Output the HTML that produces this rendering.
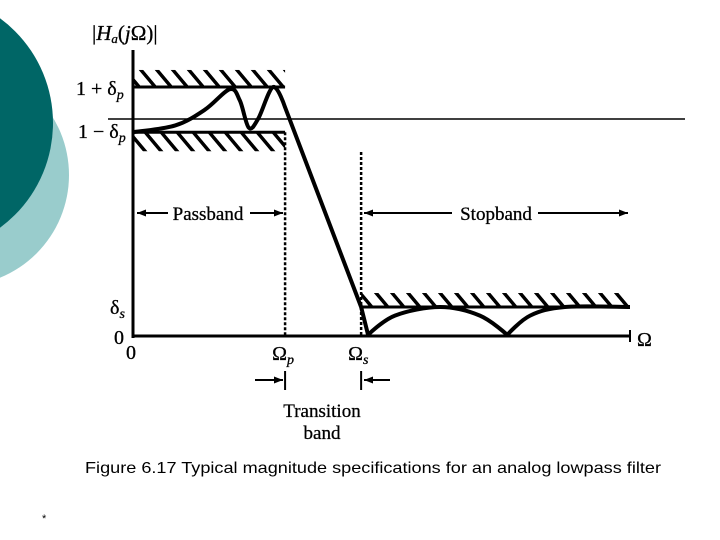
<!DOCTYPE html>
<html><head><meta charset="utf-8"><style>
html,body{margin:0;padding:0;background:#fff;}
svg{display:block;}
.serif{font-family:"Liberation Serif",serif;fill:#000;stroke:#000;stroke-width:0.3;}
</style></head><body>
<svg width="720" height="540" viewBox="0 0 720 540">
<defs>
<pattern id="hatch" width="16" height="40" patternUnits="userSpaceOnUse" patternTransform="skewX(40)">
<rect x="0" y="0" width="4.5" height="40" fill="#000"/>
</pattern>
</defs>
<circle cx="-42" cy="175" r="111" fill="#99cccc"/>
<circle cx="-77" cy="123" r="130" fill="#006666"/>
<g id="chart"></g>
<text x="85" y="473" font-family="'Liberation Sans',sans-serif" font-size="16" textLength="576" lengthAdjust="spacingAndGlyphs" fill="#000">Figure 6.17  Typical magnitude specifications for an analog lowpass filter</text>
<text x="42" y="522" font-family="'Liberation Sans',sans-serif" font-size="11" fill="#000">*</text>
</svg>
<script>
const curveOmega=[0,0.85,1.45,1.95,2.15,2.33,2.52,2.82,3.06,4.59,4.73,5.27,6.18,6.98,7.53,7.99,8.69,10];
const curveMag=[0.9,0.93,1.0,1.09,1.04,0.92,0.96,1.1,1.01,0.128,0.005,0.09,0.128,0.09,0.005,0.09,0.128,0.128];
const passUpper=1.1, passLower=0.9, stopLevel=0.128;
const omegaP=3.06, omegaS=4.59, omegaMax=10;
const NS="http://www.w3.org/2000/svg";
const g=document.getElementById('chart');
const X=w=>133+w*49.7;
const Y=v=>336-v*226.4;
function el(t,a,p){const e=document.createElementNS(NS,t);for(const k in a)e.setAttribute(k,a[k]);(p||g).appendChild(e);return e;}
function txt(s,x,y,size,name,anchor){const e=el('text',{x:x,y:y,'font-size':size,class:'serif','text-anchor':anchor||'start'});e.innerHTML=s;


return e;}
let h=el('rect',{x:X(0),y:Y(passUpper)-17,width:X(omegaP)-X(0),height:17,fill:'url(#hatch)'});


h=el('rect',{x:X(0),y:Y(passLower),width:X(omegaP)-X(0),height:19,fill:'url(#hatch)'});


h=el('rect',{x:X(omegaS),y:Y(stopLevel)-14,width:X(omegaMax)-X(omegaS),height:14,fill:'url(#hatch)'});


let l=el('line',{x1:X(0),y1:Y(passUpper),x2:X(omegaP),y2:Y(passUpper),stroke:'#000','stroke-width':3});


l=el('line',{x1:X(0),y1:Y(passLower),x2:X(omegaP),y2:Y(passLower),stroke:'#000','stroke-width':3});


l=el('line',{x1:X(omegaS),y1:Y(stopLevel),x2:X(omegaMax),y2:Y(stopLevel),stroke:'#000','stroke-width':3});


l=el('line',{x1:108,y1:119,x2:685,y2:119,stroke:'#000','stroke-width':1.5});


l=el('line',{x1:X(omegaP),y1:Y(passLower),x2:X(omegaP),y2:Y(0),stroke:'#000','stroke-width':2.5,'stroke-dasharray':'3,2'});


l=el('line',{x1:X(omegaS),y1:152,x2:X(omegaS),y2:Y(0),stroke:'#000','stroke-width':2.5,'stroke-dasharray':'3,2'});


l=el('line',{x1:X(0),y1:50,x2:X(0),y2:Y(0)+2,stroke:'#000','stroke-width':3});


l=el('line',{x1:X(0),y1:Y(0),x2:X(omegaMax),y2:Y(0),stroke:'#000','stroke-width':3});


l=el('line',{x1:X(omegaMax),y1:Y(0)-6,x2:X(omegaMax),y2:Y(0)+6,stroke:'#000','stroke-width':2});


const P=curveOmega.map((w,i)=>[X(w),Y(curveMag[i])]);
const cusp=new Set([8,9,10,14]);
let d='M'+P[0][0]+','+P[0][1];
for(let i=0;i<P.length-1;i++){const p0=P[Math.max(0,i-1)],p1=P[i],p2=P[i+1],p3=P[Math.min(P.length-1,i+2)];
const t1=cusp.has(i)?0:1/6, t2=cusp.has(i+1)?0:1/6;
d+=' C'+(p1[0]+(p2[0]-p0[0])*t1)+','+(p1[1]+(p2[1]-p0[1])*t1)+' '+(p2[0]-(p3[0]-p1[0])*t2)+','+(p2[1]-(p3[1]-p1[1])*t2)+' '+p2[0]+','+p2[1];}
const c=el('path',{d:d,fill:'none',stroke:'#000','stroke-width':4,'stroke-linejoin':'round'});


function arrow(x1,x2,y,name){const a=el('line',{x1:x1,y1:y,x2:x2,y2:y,stroke:'#000','stroke-width':2});


const s=x2>x1?-1:1;const hd=el('path',{d:`M${x2},${y} L${x2+s*9},${y-3.5} L${x2+s*9},${y+3.5} Z`,fill:'#000'});

}
arrow(168,137,213,'passband-arrow-left');arrow(250,283,213,'passband-arrow-right');
arrow(452,364,213,'stopband-arrow-left');arrow(538,628,213,'stopband-arrow-right');
arrow(255,283,380,'transition-arrow-left');arrow(390,364,380,'transition-arrow-right');
l=el('line',{x1:X(omegaP),y1:371,x2:X(omegaP),y2:390,stroke:'#000','stroke-width':2});


l=el('line',{x1:X(omegaS),y1:371,x2:X(omegaS),y2:390,stroke:'#000','stroke-width':2});


txt('|<tspan font-style="italic">H<tspan font-size="13" dy="3">a</tspan></tspan><tspan dy="-3">(</tspan><tspan font-style="italic">j</tspan>Ω)|',92,40,21,'y-axis-title');
txt('1 + δ<tspan font-size="14" dy="4" font-style="italic">p</tspan>',76,95,20,'label-1-plus-delta-p');
txt('1 − δ<tspan font-size="14" dy="4" font-style="italic">p</tspan>',78,138,20,'label-1-minus-delta-p');
txt('δ<tspan font-size="14" dy="4" font-style="italic">s</tspan>',110,314,20,'label-delta-s');
txt('0',114,344,20,'label-y-zero');
txt('0',126,359,20,'label-x-zero');
txt('Ω<tspan font-size="14" dy="4" font-style="italic">p</tspan>',X(omegaP)-13,360,20,'label-omega-p');
txt('Ω<tspan font-size="14" dy="4" font-style="italic">s</tspan>',X(omegaS)-13,360,20,'label-omega-s');
txt('Ω',637,346,20,'x-axis-title');
txt('Passband',208,220,19,'passband-label','middle');
txt('Stopband',496,220,19,'stopband-label','middle');
txt('Transition',322,417,19,'transition-label','middle');
txt('band',322,439,19,'transition-band-label','middle');
</script>
</body></html>
